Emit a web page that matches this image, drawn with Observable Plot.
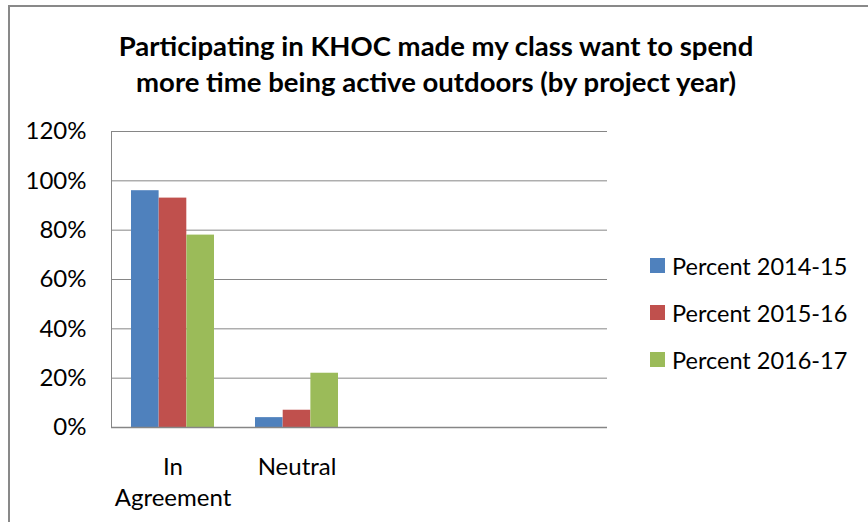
<!DOCTYPE html>
<html><head><meta charset="utf-8">
<script src="https://cdn.jsdelivr.net/npm/d3@7"></script>
<script src="https://cdn.jsdelivr.net/npm/@observablehq/plot@0.6"></script>
<style>
body{margin:0;background:#fff;}
#chart{position:relative;width:868px;height:522px;overflow:hidden;font-family:Lato,sans-serif;color:#000;background:#fff;}
#border{position:absolute;left:8px;top:5px;width:900px;height:600px;border-left:2px solid #898989;border-top:2px solid #898989;}
#title{position:absolute;left:0;width:872px;top:28px;text-align:center;font-weight:bold;font-size:27.5px;line-height:36px;white-space:nowrap;}
#plot{position:absolute;left:0;top:0;}
#legend{position:absolute;left:650px;top:242px;font-size:23.5px;}
.row{height:47px;display:flex;align-items:center;white-space:nowrap;}
.sw{width:15px;height:15px;margin-right:7px;flex:none;}
</style></head>
<body>
<div id="chart">
  <div id="border"></div>
  <div id="plot"></div>
  <div id="title"></div>
  <div id="legend"></div>
</div>
<script>
const titleLines = ["Participating in KHOC made my class want to spend", "more time being active outdoors (by project year)"];
const categories = ["In Agreement", "Neutral", " ", "  "];
const seriesNames = ["Percent 2014-15", "Percent 2015-16", "Percent 2016-17"];
const pct2014_15 = [96, 4];
const pct2015_16 = [93, 7];
const pct2016_17 = [78, 22];
const seriesColors = ["#4F81BD", "#C0504D", "#9BBB59"];
const yTicks = [0, 20, 40, 60, 80, 100, 120];

const seriesValues = [pct2014_15, pct2015_16, pct2016_17];

const W = 620, H = 522, mL = 111, mR = 13, mT = 131, mB = 95;
const padIn = 0.33, padOut = 0.165;
const step = (W - mL - mR) / (categories.length - padIn + 2 * padOut);
const band = step * (1 - padIn);
const bw = band / seriesNames.length;

const barMarks = seriesValues.map((vals, i) =>
  Plot.barY(vals.map((v, j) => ({cat: categories[j], value: v})), {
    x: "cat", y: "value", fill: seriesColors[i],
    insetLeft: i * bw, insetRight: (seriesNames.length - 1 - i) * bw
  })
);

const plot = Plot.plot({
  width: W, height: H,
  marginLeft: mL, marginRight: mR, marginTop: mT, marginBottom: mB,
  style: {fontFamily: "Lato, sans-serif", fontSize: "24px", color: "#000", background: "transparent"},
  x: {type: "band", domain: categories, paddingInner: padIn, paddingOuter: padOut},
  y: {domain: [0, 120]},
  marks: [
    Plot.ruleY(yTicks.filter(d => d > 0), {stroke: "#868686", strokeWidth: 1}),
    ...barMarks,
    Plot.ruleY([0], {stroke: "#868686", strokeWidth: 1.5}),
    Plot.frame({anchor: "left", stroke: "#868686", strokeWidth: 1}),
    Plot.axisY(yTicks, {tickSize: 0, tickPadding: 25, tickFormat: d => d + "%", fontSize: 24, label: null}),
    Plot.axisX({tickSize: 0, tickPadding: 26, fontSize: 24, lineHeight: 1.29, label: null,
      tickFormat: d => d.trim().replace(" ", "\n")})
  ]
});
document.getElementById("plot").appendChild(plot);

document.getElementById("title").innerHTML = titleLines.join("<br>");
const legend = document.getElementById("legend");
seriesNames.forEach((name, i) => {
  const row = document.createElement("div");
  row.className = "row";
  row.innerHTML = `<span class="sw" style="background:${seriesColors[i]}"></span><span>${name}</span>`;
  legend.appendChild(row);
});
</script>
</body></html>
